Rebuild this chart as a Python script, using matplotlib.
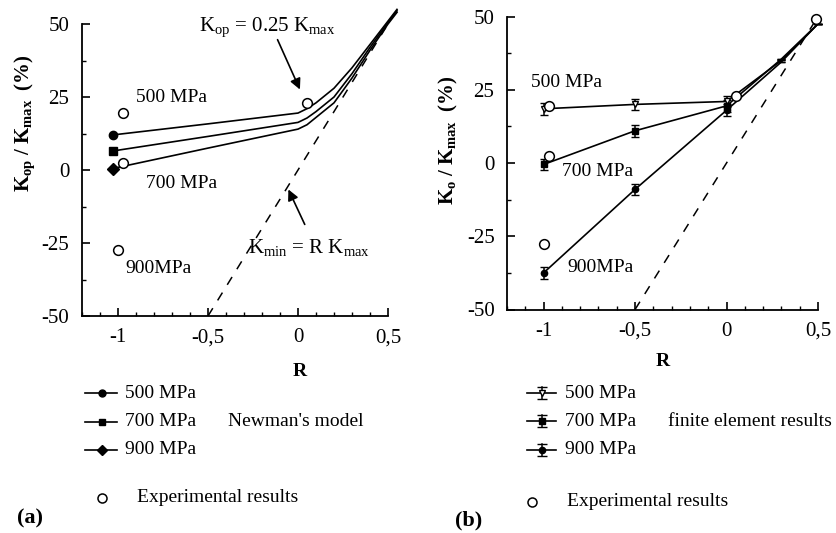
import matplotlib
matplotlib.use("Agg")
import matplotlib.pyplot as plt
from matplotlib.lines import Line2D
from matplotlib.ticker import MultipleLocator

plt.rcParams['font.family'] = ['Liberation Serif', 'DejaVu Serif']
plt.rcParams['mathtext.fontset'] = 'custom'
plt.rcParams['mathtext.rm'] = 'Liberation Serif'
plt.rcParams['mathtext.it'] = 'Liberation Serif:italic'
plt.rcParams['mathtext.bf'] = 'Liberation Serif:bold'

# (a) Newman's model
newman_r = [-1.03, -0.5, 0, 0.05, 0.1, 0.2, 0.3, 0.4, 0.5, 0.55]
newman_500 = [12, 15.8, 19.5, 21, 23, 28, 35, 43, 51, 55]
newman_700 = [6.5, 11.5, 16.3, 17.8, 20, 25, 33, 42, 50.5, 54.5]
newman_900 = [0.5, 7.5, 14, 15.5, 18, 23, 31.5, 41, 50, 54]

# (b) finite element results
fe_r = [-1, -0.5, 0, 0.3, 0.5]
fe_500 = [18.5, 20, 21, 35, 47.5]
fe_700 = [-0.5, 11, 19.5, 35.5, 47.5]
fe_900 = [-37.5, -9, 18, 34.5, 47.5]
fe_err = [2, 2, 2, 0, 0]

# experimental results
exp_r = [-0.97, -0.97, -1.0, 0.05, 0.49]
exp_k = [19.5, 2.5, -27.5, 23, 49]

# K_min = R K_max
kmin_r = [-0.5, 0.5]
kmin_k = [-50, 50]

x_ticks = [-1, -0.5, 0, 0.5]
x_labels = ['-1', '-0,5', '0', '0,5']
y_ticks = [-50, -25, 0, 25, 50]
y_labels = ['-50', '-25', '0', '25', '50']

W, H = 837, 533
FS = 14


def fx(x):
    return x / W


def fy(y):
    return 1 - y / H


def style_axes(ax):
    ax.set_xlim(-1.2, 0.5)
    ax.set_ylim(-50, 50)
    for s in ['top', 'right']:
        ax.spines[s].set_visible(False)
    for s in ['left', 'bottom']:
        ax.spines[s].set_linewidth(1.3)
    ax.set_xticks(x_ticks)
    ax.set_xticklabels(x_labels)
    ax.set_yticks(y_ticks)
    ax.set_yticklabels(y_labels)
    ax.xaxis.set_minor_locator(MultipleLocator(0.1))
    ax.yaxis.set_minor_locator(MultipleLocator(12.5))
    ax.tick_params(which='major', direction='in', length=6, width=1.2,
                   labelsize=FS + 1, pad=9)
    ax.tick_params(which='minor', direction='in', length=3, width=1)
    ax.plot(kmin_r, kmin_k, color='black', lw=1.1, ls=(0, (6, 6)), clip_on=False)


fig = plt.figure(figsize=(W / 100, H / 100), dpi=100)

# ---------- (a) ----------
ax1 = fig.add_axes([fx(82), fy(316), fx(388 - 82), (316 - 24) / H])
style_axes(ax1)
ax1.plot(newman_r, newman_500, color='black', lw=1.2, marker='o', ms=6,
         markevery=[0], clip_on=False)
ax1.plot(newman_r, newman_700, color='black', lw=1.2, marker='s', ms=5.5,
         markevery=[0], clip_on=False)
ax1.plot(newman_r, newman_900, color='black', lw=1.2, marker='D', ms=6,
         markevery=[0], clip_on=False)
ax1.plot(exp_r[:4], exp_k[:4], ls='none', marker='o', ms=7, mfc='white',
         mec='black', mew=1.1, clip_on=False, zorder=5)

ax1.text(-0.9, 25, '500 MPa', fontsize=FS, va='center')
ax1.text(-0.845, -4.5, '700 MPa', fontsize=FS, va='center')
ax1.text(-0.96, -33.6, '900MPa', fontsize=FS, va='center')
ax1.annotate('', xy=(0.017, 26.7), xytext=(-0.12, 45.5),
             arrowprops=dict(arrowstyle='-|>', color='black', lw=1.2,
                             mutation_scale=16))
ax1.text(-0.55, 49, r'K$_{\rm op}$ = 0.25 K$_{\rm max}$', fontsize=FS + 1,
         va='center')
ax1.annotate('', xy=(-0.06, -5.8), xytext=(0.044, -19.5),
             arrowprops=dict(arrowstyle='-|>', color='black', lw=1.2,
                             mutation_scale=16))
ax1.text(-0.28, -26.7, r'K$_{\rm min}$ = R K$_{\rm max}$', fontsize=FS + 1,
         va='center')

fig.text(fx(25), fy(123), r'$\mathbf{K_{op}\ /\ K_{max}\ \ (\%)}$',
         rotation=90, fontsize=FS + 1, ha='center', va='center')
fig.text(fx(300), fy(372), 'R', fontsize=FS, fontweight='bold',
         ha='center', va='center')

# legend (a)
legend_a = [('o', 5, '500 MPa', 393), ('s', 5, '700 MPa', 422),
            ('D', 5.5, '900 MPa', 450)]
for mk, ms, lab, yy in legend_a:
    fig.add_artist(Line2D([fx(85), fx(117)], [fy(yy), fy(yy)], color='black',
                          lw=1.2, transform=fig.transFigure))
    fig.add_artist(Line2D([fx(102)], [fy(yy)], marker=mk, ms=ms, color='black',
                          transform=fig.transFigure))
    fig.text(fx(125), fy(yy), lab, fontsize=FS, va='center')
fig.text(fx(228), fy(422), "Newman's model", fontsize=FS, va='center')
fig.add_artist(Line2D([fx(102)], [fy(498)], marker='o', ms=6.5, mfc='white',
                      mec='black', mew=1.1, transform=fig.transFigure))
fig.text(fx(137), fy(498), 'Experimental results', fontsize=FS, va='center')
fig.text(fx(17), fy(518), '(a)', fontsize=FS + 2, fontweight='bold',
         va='center')

# ---------- (b) ----------
ax2 = fig.add_axes([fx(507), fy(309.5), fx(818 - 507), (309.5 - 16.5) / H])
style_axes(ax2)
ax2.errorbar(fe_r, fe_500, yerr=fe_err, color='black', lw=1.2, capsize=3,
             elinewidth=1.1, marker='v', ms=5, mfc='white', markevery=[0, 1, 2],
             clip_on=False)
ax2.errorbar(fe_r, fe_700, yerr=fe_err, color='black', lw=1.2, capsize=3,
             elinewidth=1.1, marker='s', ms=4.5, markevery=[0, 1, 2],
             clip_on=False)
ax2.errorbar(fe_r, fe_900, yerr=fe_err, color='black', lw=1.2, capsize=3,
             elinewidth=1.1, marker='o', ms=4.5, markevery=[0, 1, 2],
             clip_on=False)
ax2.plot(exp_r, exp_k, ls='none', marker='o', ms=7, mfc='white',
         mec='black', mew=1.1, clip_on=False, zorder=5)

ax2.text(-1.07, 27.6, '500 MPa', fontsize=FS, va='center')
ax2.text(-0.9, -3, '700 MPa', fontsize=FS, va='center')
ax2.text(-0.87, -35.5, '900MPa', fontsize=FS, va='center')

fig.text(fx(448), fy(140), r'$\mathbf{K_{o}\ /\ K_{max}\ \ (\%)}$',
         rotation=90, fontsize=FS + 1, ha='center', va='center')
fig.text(fx(663), fy(362), 'R', fontsize=FS, fontweight='bold',
         ha='center', va='center')

# legend (b)
legend_b = [('v', 'white', '500 MPa', 393), ('s', 'black', '700 MPa', 421),
            ('o', 'black', '900 MPa', 450)]
for mk, fc, lab, yy in legend_b:
    fig.add_artist(Line2D([fx(527), fx(556)], [fy(yy), fy(yy)], color='black',
                          lw=1.2, transform=fig.transFigure))
    fig.add_artist(Line2D([fx(542), fx(542)], [fy(yy - 6), fy(yy + 6)],
                          color='black', lw=1.1, transform=fig.transFigure))
    fig.add_artist(Line2D([fx(542), fx(542)], [fy(yy - 6), fy(yy + 6)],
                          ls='none', marker='_', ms=7, color='black',
                          transform=fig.transFigure))
    fig.add_artist(Line2D([fx(542)], [fy(yy)], marker=mk, ms=4.5, mfc=fc,
                          mec='black', transform=fig.transFigure))
    fig.text(fx(565), fy(yy), lab, fontsize=FS, va='center')
fig.text(fx(668), fy(421), 'finite element results', fontsize=FS, va='center')
fig.add_artist(Line2D([fx(532)], [fy(502)], marker='o', ms=6.5, mfc='white',
                      mec='black', mew=1.1, transform=fig.transFigure))
fig.text(fx(567), fy(502), 'Experimental results', fontsize=FS, va='center')
fig.text(fx(455), fy(520), '(b)', fontsize=FS + 2, fontweight='bold',
         va='center')

fig.savefig('out.png', dpi=100)
